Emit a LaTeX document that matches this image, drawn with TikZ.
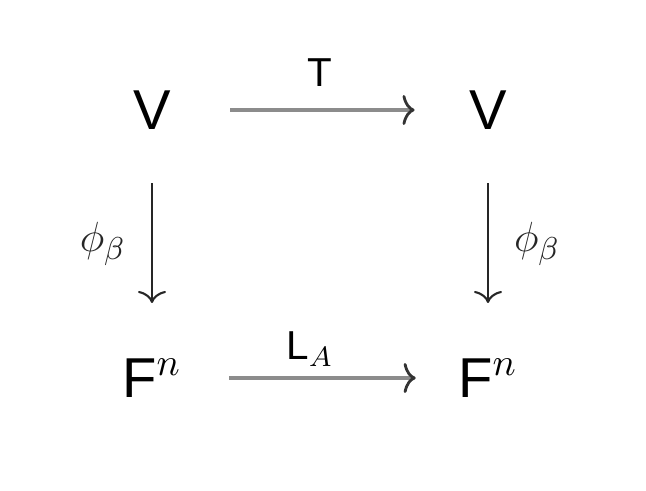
\documentclass[tikz,border=0pt]{standalone}
\usepackage{amsmath}
\usepackage{fontspec}
\setmainfont{Liberation Sans}
\usetikzlibrary{arrows.meta}

\begin{document}
\begin{tikzpicture}[
    obj/.style={inner sep=0pt, font=\fontsize{16}{19}\selectfont},
    lbl/.style={inner sep=0pt, font=\fontsize{11.5}{14}\selectfont},
    harr/.style={line width=1.1pt, black!45, -{To[width=0.3cm,length=0.12cm,line width=0.8pt,black!80]}},
    varr/.style={line width=0.6pt, black!85, -{To[width=0.28cm,length=0.12cm]}}
  ]
                \useasboundingbox (0,0) rectangle (6.46,4.9);

                \node[obj] (vl) at (1.52, 3.80) {V};
                \node[obj] (vr) at (4.88, 3.80) {V};
                \node[obj] (fl) at (1.52, 1.12) {F$^n$};
                \node[obj] (fr) at (4.88, 1.12) {F$^n$};

                \draw[harr, shorten <=0.59cm, shorten >=0.54cm] (vl) -- (vr)
                    node[lbl, midway, above=0.22cm, text=black] {T};
                \draw[harr, shorten <=0.47cm, shorten >=0.42cm] (fl) -- (fr)
                    node[lbl, midway, above=0.1cm, text=black, xshift=-0.1cm] {L$_A$};

                \draw[varr, shorten <=0.53cm, shorten >=0.55cm] (vl) -- (fl)
                    node[lbl, midway, left=0.25cm, font=\fontsize{13}{15}\selectfont] {$\phi_{\beta}$};
                \draw[varr, shorten <=0.53cm, shorten >=0.55cm] (vr) -- (fr)
                    node[lbl, midway, right=0.25cm, font=\fontsize{13}{15}\selectfont] {$\phi_{\beta}$};
\end{tikzpicture}
\end{document}
